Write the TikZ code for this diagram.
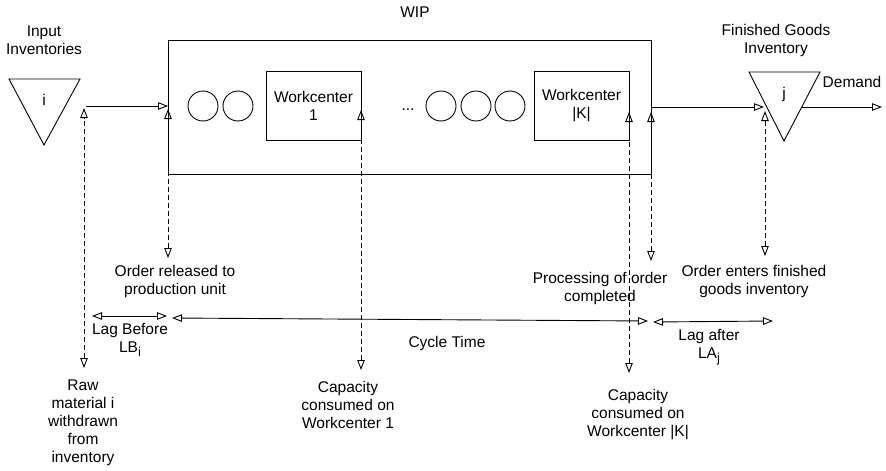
\documentclass[tikz,border=0pt]{standalone}
\usepackage{fontspec}
\setmainfont{Liberation Sans}
\usetikzlibrary{arrows.meta}
\newcommand{\mysub}[1]{\raisebox{-4.5pt}{\fontsize{13}{13}\selectfont #1}}
\tikzset{
  lbl/.style={align=center, inner sep=0pt, font=\fontsize{15.5}{18}\selectfont},
  ln/.style={line width=0.9pt},
  arr/.style={ln, -{Triangle[open,length=10pt,width=7.5pt]}},
  darr/.style={ln, {Triangle[open,length=10pt,width=7.5pt]}-{Triangle[open,length=10pt,width=7.5pt]}},
  dsh/.style={dash pattern=on 5pt off 3pt},
  bx/.style={draw, ln, inner sep=0pt},
  crc/.style={draw, ln, circle, minimum size=30pt, inner sep=0pt},
}
\begin{document}
\begin{tikzpicture}[x=1pt,y=-1pt]
\useasboundingbox (0,0) rectangle (886,471);
% input inventory triangle
\draw[ln] (9,79) -- (80,79) -- (44,145) -- cycle;
\node[lbl] (ilab) at (44,100) {i};
\node[lbl] (intitle) at (44,40) {Input\\Inventories};
% WIP box
\node[bx, minimum width=483pt, minimum height=134pt] (wip) at (409.5,107) {};
\node[lbl] (wiptitle) at (415,12) {WIP};
\node[crc] (c1) at (203,106) {};
\node[crc] (c2) at (238,106) {};
\node[bx, lbl, draw, minimum width=95pt, minimum height=69pt] (wc1) at (313.5,105.5) {Workcenter\\1};
\node[lbl] (dots) at (408,110) {...};
\node[crc] (c3) at (441,106) {};
\node[crc] (c4) at (476,106) {};
\node[crc] (c5) at (510,106) {};
\node[bx, lbl, draw, minimum width=95pt, minimum height=69pt] (wck) at (581.5,105.5) {Workcenter\\|K|};
% finished goods triangle
\draw[ln] (749,72) -- (820,72) -- (784,141) -- cycle;
\node[lbl] (jlab) at (784,94) {j};
\node[lbl] (fgtitle) at (776,40) {Finished Goods\\Inventory};
\node[lbl] (demand) at (852,82) {Demand};
% coordinates
\coordinate (a1s) at (86,106);
\coordinate (a1e) at (168,106);
\coordinate (a2s) at (651,107);
\coordinate (a2e) at (764,107);
\coordinate (a3s) at (802,107);
\coordinate (a3e) at (882,107);
\coordinate (d1t) at (84,108);  \coordinate (d1b) at (84,368);
\coordinate (d2t) at (168,109); \coordinate (d2b) at (168,258);
\coordinate (d3t) at (361,110); \coordinate (d3b) at (361,370);
\coordinate (d4t) at (629,112); \coordinate (d4b) at (629,373);
\coordinate (d5t) at (651,112); \coordinate (d5b) at (651,261);
\coordinate (d6t) at (765,111); \coordinate (d6b) at (765,256);
\coordinate (lb1) at (92,316);  \coordinate (lb2) at (167,316);
\coordinate (ct1) at (172,318); \coordinate (ct2) at (648,321);
\coordinate (la1) at (653,322); \coordinate (la2) at (773,321);
% flows
\draw[arr] (a1s) -- (a1e);
\draw[arr] (a2s) -- (a2e);
\draw[arr] (a3s) -- (a3e);
% dashed event lines
\draw[darr, dsh] (d1b) -- (d1t);
\draw[darr, dsh] (d2b) -- (d2t);
\draw[darr, dsh] (d3b) -- (d3t);
\draw[darr, dsh] (d4b) -- (d4t);
\draw[darr, dsh] (d5b) -- (d5t);
\draw[darr, dsh] (d6b) -- (d6t);
% time spans
\draw[darr] (lb1) -- (lb2);
\draw[darr] (ct1) -- (ct2);
\draw[darr] (la1) -- (la2);
% labels
\node[lbl] (orel) at (175,281) {Order released to\\production unit};
\node[lbl] (lagb) at (130,340) {Lag Before\\LB\mysub{i}};
\node[lbl] (cyc) at (447,343) {Cycle Time};
\node[lbl] (laga) at (709,347) {Lag after\\LA\mysub{j}};
\node[lbl] (proc) at (600,288) {Processing of order\\completed};
\node[lbl] (oent) at (754,281) {Order enters finished\\goods inventory};
\node[lbl] (raw) at (83,423) {Raw\\material i\\withdrawn\\from\\inventory};
\node[lbl] (cap1) at (348,405) {Capacity\\consumed on\\Workcenter 1};
\node[lbl] (capk) at (638,415) {Capacity\\consumed on\\Workcenter |K|};
\end{tikzpicture}
\end{document}
